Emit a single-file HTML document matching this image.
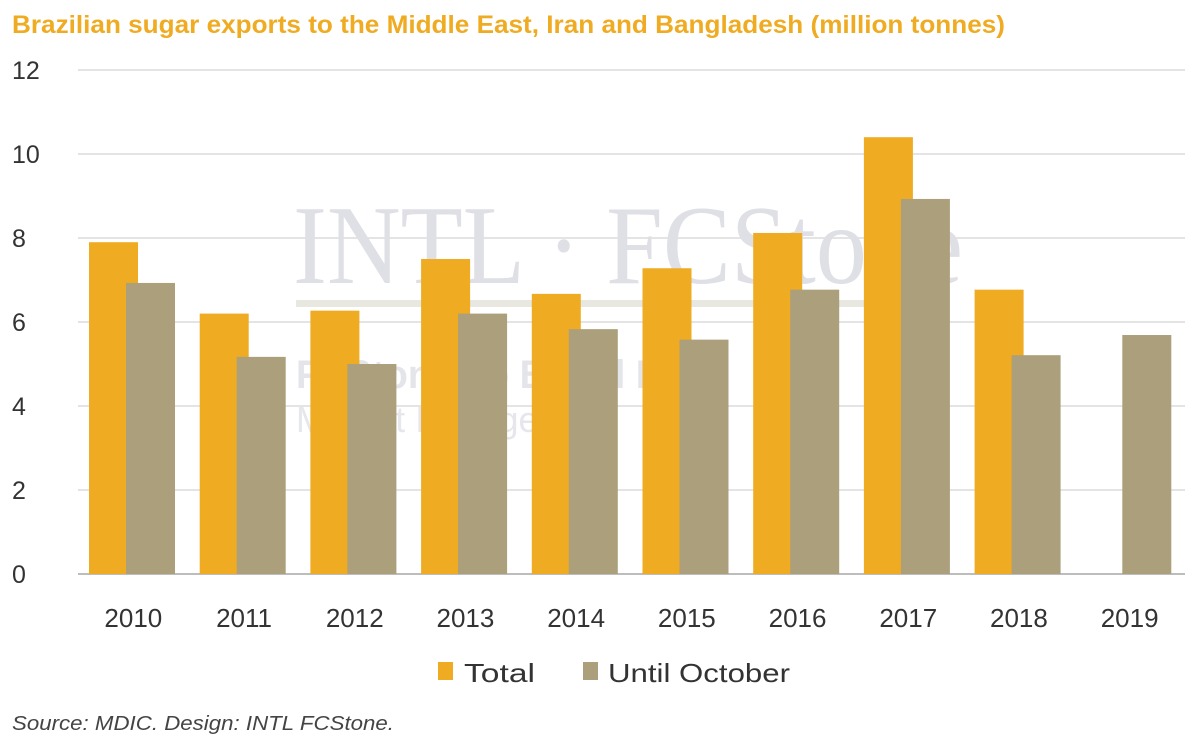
<!DOCTYPE html>
<html><head><meta charset="utf-8"><style>
body{margin:0;background:#fff;}
svg{display:block;font-family:"Liberation Sans",sans-serif;}
</style></head><body>
<svg id="chart" width="1200" height="745" viewBox="0 0 1200 745">
<text x="12" y="33" font-size="25" font-weight="bold" fill="#EFAB22" textLength="993" lengthAdjust="spacingAndGlyphs">Brazilian sugar exports to the Middle East, Iran and Bangladesh (million tonnes)</text>
<g id="grid"></g>
<g fill="#DFE0E6">
<text x="293" y="283" font-family="Liberation Serif,serif" font-size="112" textLength="670" lengthAdjust="spacingAndGlyphs">INTL · FCStone</text>
<rect x="296" y="300" width="640" height="7" fill="#E8E7E0"/>
<text x="296" y="388" font-size="40" font-weight="bold" fill="#E4E5EA" textLength="420" lengthAdjust="spacingAndGlyphs">FCStone do Brasil Ltda</text>
<text x="296" y="432" font-size="36" fill="#E6E7EC" textLength="300" lengthAdjust="spacingAndGlyphs">Market Intelligence</text>
</g>
<g id="bars"></g>
<g id="yticks"></g>
<g id="xticks"></g>
<g>
<rect x="438" y="662" width="15" height="18" fill="#EFAB22"/>
<text x="464" y="682" font-size="26" fill="#333" textLength="71" lengthAdjust="spacingAndGlyphs">Total</text>
<rect x="583" y="662" width="15" height="18" fill="#AC9F7B"/>
<text x="608" y="682" font-size="26" fill="#333" textLength="182" lengthAdjust="spacingAndGlyphs">Until October</text>
</g>
<text x="12" y="730" font-size="20" font-style="italic" fill="#444" textLength="382" lengthAdjust="spacingAndGlyphs">Source: MDIC. Design: INTL FCStone.</text>
</svg>
<script>
const categories=["2010","2011","2012","2013","2014","2015","2016","2017","2018","2019"];
const totalValues=[7.9,6.2,6.27,7.5,6.67,7.28,8.12,10.4,6.77,null];
const untilOctoberValues=[6.93,5.17,5.0,6.2,5.83,5.58,6.77,8.93,5.21,5.69];
const yTicks=[0,2,4,6,8,10,12];
const NS="http://www.w3.org/2000/svg";
const left=78,right=1185,y0=574,pxPerUnit=42;
const bw=(right-left)/categories.length;
const y=v=>y0-v*pxPerUnit;
function mk(tag,attrs,parent){const e=document.createElementNS(NS,tag);for(const k in attrs)e.setAttribute(k,attrs[k]);parent.appendChild(e);return e;}
const grid=document.getElementById('grid'),yt=document.getElementById('yticks'),xt=document.getElementById('xticks'),bars=document.getElementById('bars');
yTicks.forEach(t=>{
 const l=mk('line',{x1:left,x2:right,y1:y(t),y2:y(t),stroke:t===0?'#BDBDBD':'#DCDCDC','stroke-width':t===0?2:1.5},grid);
 
 
 const tx=mk('text',{x:12,y:y(t)+9,'font-size':25,fill:'#333'},yt);
 tx.textContent=t;
 
 
});
categories.forEach((c,i)=>{
 const x0=left+i*bw;
 const tv=totalValues[i],uv=untilOctoberValues[i];
 if(tv!=null){
  const r=mk('rect',{x:x0+11,y:y(tv),width:49,height:tv*pxPerUnit,fill:'#EFAB22'},bars);
  
  
 }
 if(uv!=null){
  const r=mk('rect',{x:x0+48,y:y(uv),width:49,height:uv*pxPerUnit,fill:'#AC9F7B'},bars);
  
  
 }
 const tx=mk('text',{x:x0+bw/2,y:627,'font-size':26,fill:'#333','text-anchor':'middle'},xt);
 tx.textContent=c;
 
 
});
</script>
</body></html>
